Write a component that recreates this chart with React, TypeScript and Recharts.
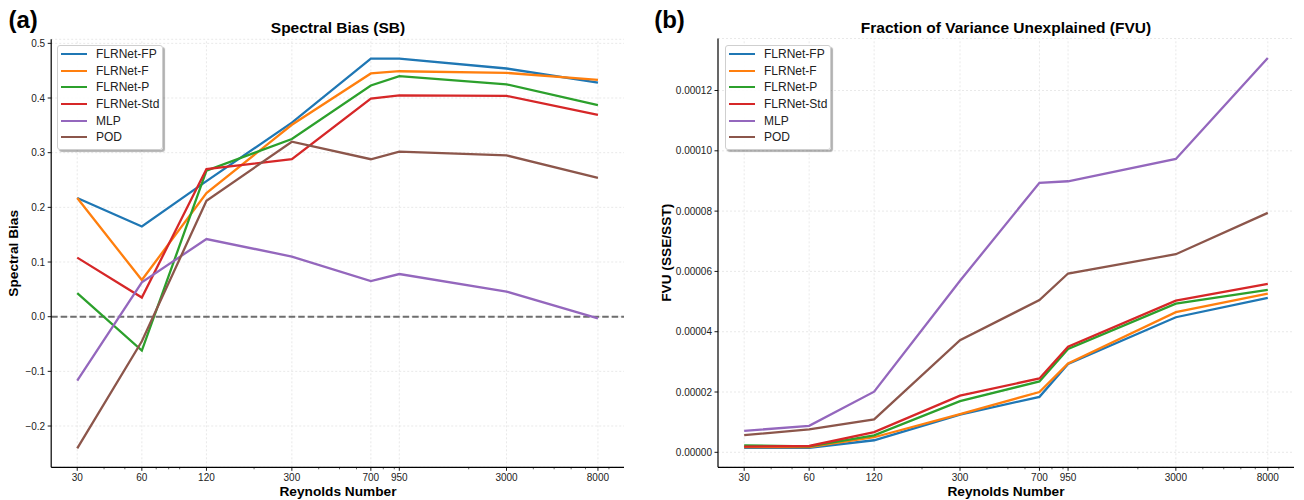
import React from 'react';
import { LineChart, Line, XAxis, YAxis, CartesianGrid, ReferenceLine, Legend } from 'recharts';

const FONT = "'Liberation Sans', Arial, Helvetica, sans-serif";

// Reynolds numbers (x categories, log scale)
const reynolds = [30, 60, 120, 300, 700, 950, 3000, 8000];
const xMajorTicks = [30, 60, 120, 300, 700, 950, 3000, 8000];
const xMinorTicks = [40, 50, 70, 80, 90, 200, 400, 500, 600, 800, 900, 2000, 4000, 5000, 6000, 7000, 9000];

const seriesNames = ['FLRNet-FP', 'FLRNet-F', 'FLRNet-P', 'FLRNet-Std', 'MLP', 'POD'];
const seriesKeys = ['fp', 'f', 'p', 'std', 'mlp', 'pod'];
const seriesColors = ['#1f77b4', '#ff7f0e', '#2ca02c', '#d62728', '#9467bd', '#8c564b'];

// Panel (a): Spectral Bias
const sbFP = [0.217, 0.165, 0.248, 0.355, 0.472, 0.472, 0.454, 0.428];
const sbF = [0.217, 0.067, 0.226, 0.351, 0.445, 0.449, 0.446, 0.433];
const sbP = [0.043, -0.062, 0.267, 0.325, 0.423, 0.44, 0.425, 0.387];
const sbStd = [0.108, 0.035, 0.27, 0.288, 0.399, 0.405, 0.404, 0.369];
const sbMLP = [-0.117, 0.063, 0.142, 0.11, 0.065, 0.078, 0.046, -0.003];
const sbPOD = [-0.241, -0.045, 0.212, 0.32, 0.288, 0.302, 0.295, 0.254];
const sbTicks = [-0.2, -0.1, 0.0, 0.1, 0.2, 0.3, 0.4, 0.5];

// Panel (b): FVU
const fvuFP = [1.5e-6, 1.5e-6, 4.0e-6, 12.5e-6, 18.4e-6, 29.3e-6, 44.8e-6, 51.2e-6];
const fvuF = [1.7e-6, 1.7e-6, 5.0e-6, 12.7e-6, 20.0e-6, 29.5e-6, 46.5e-6, 52.6e-6];
const fvuP = [2.3e-6, 2.0e-6, 5.6e-6, 17.0e-6, 23.5e-6, 34.3e-6, 49.3e-6, 53.9e-6];
const fvuStd = [1.9e-6, 2.1e-6, 6.7e-6, 18.8e-6, 24.5e-6, 35.0e-6, 50.3e-6, 55.9e-6];
const fvuMLP = [7.1e-6, 8.8e-6, 20.1e-6, 56.9e-6, 89.4e-6, 89.9e-6, 97.3e-6, 130.8e-6];
const fvuPOD = [5.7e-6, 7.6e-6, 10.9e-6, 37.2e-6, 50.5e-6, 59.3e-6, 65.7e-6, 79.4e-6];
const fvuTicks = [0, 0.00002, 0.00004, 0.00006, 0.00008, 0.0001, 0.00012];

const sbSeries = [sbFP, sbF, sbP, sbStd, sbMLP, sbPOD];
const fvuSeries = [fvuFP, fvuF, fvuP, fvuStd, fvuMLP, fvuPOD];

const buildRows = (series: number[][]) =>
  reynolds.map((re, i) => {
    const row: Record<string, number> = { re };
    seriesKeys.forEach((k, j) => {
      row[k] = series[j][i];
    });
    return row;
  });

const sbData = buildRows(sbSeries);
const fvuData = buildRows(fvuSeries);

const X_DOMAIN: [number, number] = [22.69, 10580];

const XTick = (props: any) => {
  const { x, y, payload } = props;
  const major = xMajorTicks.includes(payload.value);
  return (
    <g>
      <line x1={x} x2={x} y1={y} y2={y + (major ? 3.5 : 2)} stroke="#000" strokeWidth={major ? 0.9 : 0.6} />
      {major && (
        <text x={x} y={y + 14} textAnchor="middle" fontSize={10} fill="#222" fontFamily={FONT}>
          {payload.value}
        </text>
      )}
    </g>
  );
};

const fmtMinus = (s: string) => s.replace('-', '\u2212');

const LegendBox = () => (
  <div
    style={{
      width: 106,
      height: 105,
      background: 'rgba(255,255,255,0.9)',
      border: '1px solid #cfcfcf',
      borderRadius: 3,
      boxShadow: '2px 2px 1px rgba(0,0,0,0.3)',
      boxSizing: 'border-box',
      position: 'relative',
      fontFamily: FONT,
    }}
  >
    {seriesNames.map((name, i) => (
      <div
        key={name}
        style={{
          position: 'absolute',
          left: 0,
          top: Math.round(i * 16.67),
          height: 16,
          display: 'flex',
          alignItems: 'center',
          whiteSpace: 'nowrap',
        }}
      >
        <div style={{ marginLeft: 3, width: 26, height: 2, borderTop: `2px solid ${seriesColors[i]}`, boxSizing: 'border-box' }} />
        <span style={{ marginLeft: 9, fontSize: 12, color: '#222', lineHeight: '16px' }}>{name}</span>
      </div>
    ))}
  </div>
);

const gridColor = '#e3e3e3';

const renderLines = () =>
  seriesKeys.map((k, i) => (
    <Line
      key={k}
      type="linear"
      dataKey={k}
      name={seriesNames[i]}
      stroke={seriesColors[i]}
      strokeWidth={2.3}
      dot={false}
      activeDot={false}
      isAnimationActive={false}
    />
  ));

const renderVGrid = () =>
  xMajorTicks.map((t) => (
    <ReferenceLine key={'vg' + t} x={t} stroke={gridColor} strokeDasharray="2 2" strokeWidth={0.8} />
  ));

export default function App() {
  return (
    <div style={{ position: 'absolute', left: 0, top: 0, width: 1304, height: 500, background: '#fff' }}>
      <div style={{ position: 'absolute', left: 0, top: 0 }}>
        <LineChart width={652} height={500} data={sbData} margin={{ top: 39.3, right: 28, bottom: 2.7, left: 11.2 }}>
          <CartesianGrid vertical={false} stroke={gridColor} strokeDasharray="2 2" strokeWidth={0.8} />
          {renderVGrid()}
          <XAxis
            dataKey="re"
            type="number"
            scale="log"
            domain={X_DOMAIN}
            allowDataOverflow
            ticks={[...xMajorTicks, ...xMinorTicks]}
            interval={0}
            tick={<XTick />}
            tickLine={false}
            tickSize={0}
            tickMargin={0}
            height={30}
            axisLine={{ stroke: '#000', strokeWidth: 1.2 }}
          />
          <YAxis
            type="number"
            domain={[-0.2755, 0.5074]}
            allowDataOverflow
            ticks={sbTicks}
            interval={0}
            width={40}
            tickSize={3.5}
            tickMargin={2.5}
            tickFormatter={(v: number) => fmtMinus(v.toFixed(1))}
            tick={{ fontSize: 10, fill: '#222', fontFamily: FONT }}
            tickLine={{ stroke: '#000', strokeWidth: 0.9 }}
            axisLine={{ stroke: '#000', strokeWidth: 1.2 }}
          />
          <ReferenceLine y={0} stroke="#6e6e6e" strokeWidth={2} strokeDasharray="6.5 3" />
          {renderLines()}
          <Legend
            layout="vertical"
            align="center"
            verticalAlign="middle"
            content={<LegendBox />}
            wrapperStyle={{ left: 57, top: 45, width: 107 }}
          />
        </LineChart>
      </div>
      <div style={{ position: 'absolute', left: 652, top: 0 }}>
        <LineChart width={652} height={500} data={fvuData} margin={{ top: 38.5, right: 10, bottom: 2.7, left: 11 }}>
          <CartesianGrid vertical={false} stroke={gridColor} strokeDasharray="2 2" strokeWidth={0.8} />
          {renderVGrid()}
          <XAxis
            dataKey="re"
            type="number"
            scale="log"
            domain={X_DOMAIN}
            allowDataOverflow
            ticks={[...xMajorTicks, ...xMinorTicks]}
            interval={0}
            tick={<XTick />}
            tickLine={false}
            tickSize={0}
            tickMargin={0}
            height={30}
            axisLine={{ stroke: '#000', strokeWidth: 1.2 }}
          />
          <YAxis
            type="number"
            domain={[-0.00000497, 0.00013725]}
            allowDataOverflow
            ticks={fvuTicks}
            interval={0}
            width={55}
            tickSize={3.5}
            tickMargin={2.5}
            tickFormatter={(v: number) => v.toFixed(5)}
            tick={{ fontSize: 10, fill: '#222', fontFamily: FONT }}
            tickLine={{ stroke: '#000', strokeWidth: 0.9 }}
            axisLine={{ stroke: '#000', strokeWidth: 1.2 }}
          />
          {renderLines()}
          <Legend
            layout="vertical"
            align="center"
            verticalAlign="middle"
            content={<LegendBox />}
            wrapperStyle={{ left: 73, top: 45, width: 107 }}
          />
        </LineChart>
      </div>
      <svg
        width={1304}
        height={500}
        style={{ position: 'absolute', left: 0, top: 0, pointerEvents: 'none' }}
        fontFamily={FONT}
      >
        <text x={8.4} y={27.5} fontSize={24} fontWeight="bold" fill="#000">(a)</text>
        <text x={654.2} y={27.5} fontSize={24} fontWeight="bold" fill="#000">(b)</text>
        <text x={338} y={33} fontSize={15.5} fontWeight="bold" textAnchor="middle" fill="#000">Spectral Bias (SB)</text>
        <text x={1006} y={33} fontSize={15.5} fontWeight="bold" textAnchor="middle" fill="#000">
          Fraction of Variance Unexplained (FVU)
        </text>
        <text x={338} y={496} fontSize={13.7} fontWeight="bold" textAnchor="middle" fill="#000">Reynolds Number</text>
        <text x={1006} y={496} fontSize={13.7} fontWeight="bold" textAnchor="middle" fill="#000">Reynolds Number</text>
        <text
          x={0}
          y={0}
          fontSize={13.7}
          fontWeight="bold"
          textAnchor="middle"
          fill="#000"
          transform="translate(18.3,253.3) rotate(-90)"
        >
          Spectral Bias
        </text>
        <text
          x={0}
          y={0}
          fontSize={13.7}
          fontWeight="bold"
          textAnchor="middle"
          fill="#000"
          transform="translate(670.8,252.8) rotate(-90)"
        >
          FVU (SSE/SST)
        </text>
      </svg>
    </div>
  );
}
